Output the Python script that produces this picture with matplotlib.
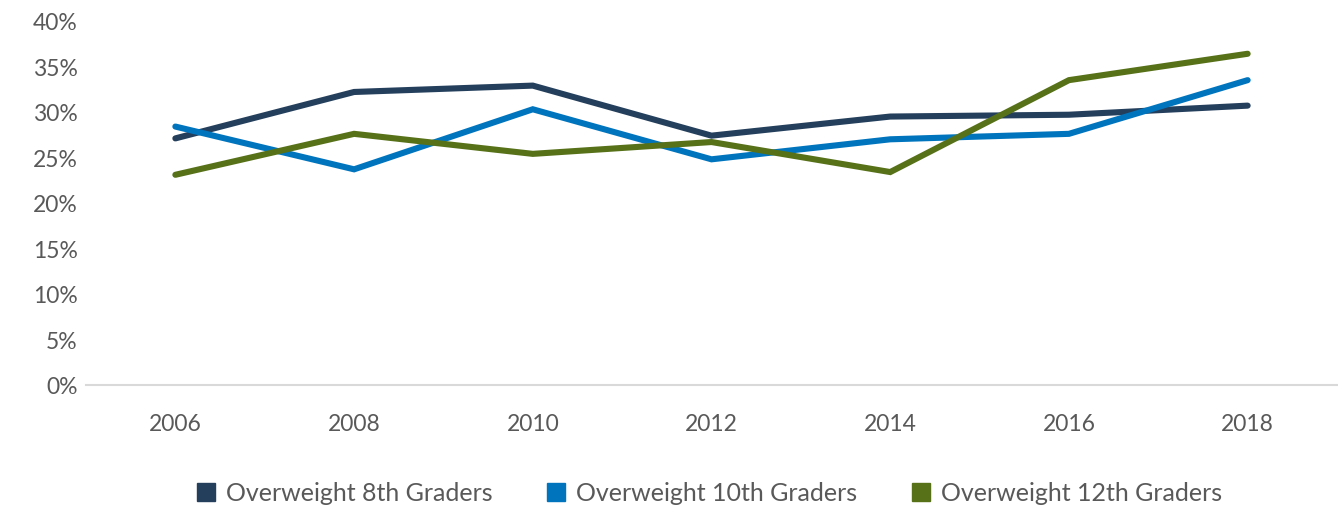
import matplotlib
matplotlib.use("Agg")
import matplotlib.pyplot as plt
from matplotlib.lines import Line2D
from matplotlib.ticker import FuncFormatter

years = ["2006", "2008", "2010", "2012", "2014", "2016", "2018"]
grade8 = [27.1, 32.2, 32.9, 27.4, 29.5, 29.7, 30.7]
grade10 = [28.4, 23.7, 30.3, 24.8, 27.0, 27.6, 33.5]
grade12 = [23.1, 27.6, 25.4, 26.7, 23.4, 33.5, 36.4]
labels = ["Overweight 8th Graders", "Overweight 10th Graders", "Overweight 12th Graders"]
colors = ["#243F5C", "#0075BE", "#577119"]

plt.rcParams['font.family'] = ['Lato', 'DejaVu Sans']

fig = plt.figure(figsize=(13.38, 5.10), dpi=100)
ax = fig.add_axes([86/1338, (510-386)/510, (1337-86)/1338, (386-22)/510])

x = list(range(len(years)))
for series, c in zip([grade8, grade10, grade12], colors):
    ax.plot(x, series, color=c, lw=4.4, solid_capstyle='round', solid_joinstyle='miter')

ax.set_xlim(-0.5, len(years) - 0.5)
ax.set_ylim(0, 40)
ax.set_yticks(range(0, 41, 5))
ax.yaxis.set_major_formatter(FuncFormatter(lambda v, p: f"{int(v)}%"))
ax.set_xticks(x)
ax.set_xticklabels(years)
for s in ['top', 'right', 'left']:
    ax.spines[s].set_visible(False)
ax.spines['bottom'].set_color('#D9D9D9')
ax.spines['bottom'].set_linewidth(1.5)
ax.tick_params(axis='both', length=0, labelsize=16.5, colors='#595959')
ax.tick_params(axis='x', pad=20)
ax.tick_params(axis='y', pad=6)

handles = [Line2D([], [], marker='s', linestyle='none', markersize=13, color=c) for c in colors]
leg = fig.legend(handles, labels, loc='center', bbox_to_anchor=(0.529, (510-494)/510),
                 ncol=3, frameon=False, fontsize=18, handlelength=1.0, handletextpad=0.3,
                 columnspacing=2.05, labelcolor='#595959')

fig.savefig("out.png", dpi=100)
